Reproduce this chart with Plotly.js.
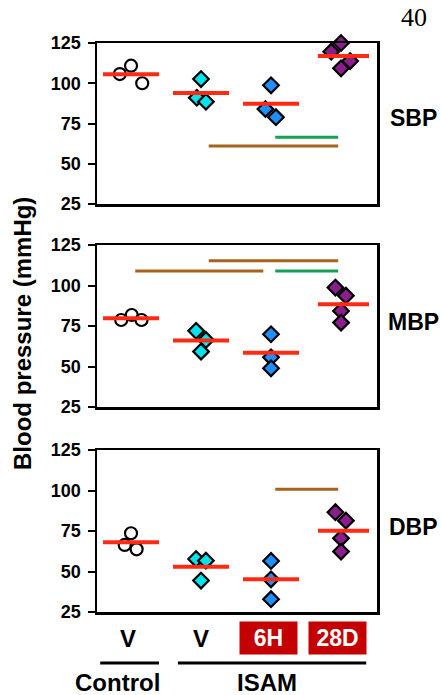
<!DOCTYPE html>
<html>
<head>
<meta charset="utf-8">
<script src="https://cdn.plot.ly/plotly-3.0.1.min.js"></script>
<style>html,body{margin:0;padding:0;background:#fff}#chart{width:441px;height:695px}</style>
</head>
<body>
<div id="chart"></div>
<script>
// ---------- DATA ----------
const groups = ['Control V', 'ISAM V', 'ISAM 6H', 'ISAM 28D'];
const bottomLabels = ['V', 'V', '6H', '28D'];
const panelNames = ['SBP', 'MBP', 'DBP'];
const yTicks = [25, 50, 75, 100, 125];

// SBP (mmHg)
const sbpControl = [105.7, 110.9, 100.0];
const sbpIsamV   = [102.6, 91.0, 88.5];
const sbpIsam6H  = [98.7, 84.0, 78.9];
const sbpIsam28D = [125.0, 119.6, 113.8, 109.3];
const sbpMeans   = [105.6, 94.0, 87.2, 117.0];

// MBP (mmHg)
const mbpControl = [78.7, 81.8, 78.7];
const mbpIsamV   = [72.0, 66.4, 59.2];
const mbpIsam6H  = [69.9, 55.7, 48.9];
const mbpIsam28D = [98.7, 93.7, 84.3, 77.1];
const mbpMeans   = [79.8, 66.0, 58.5, 88.4];

// DBP (mmHg)
const dbpControl = [73.6, 66.4, 63.7];
const dbpIsamV   = [57.7, 56.7, 44.4];
const dbpIsam6H  = [56.5, 45.2, 32.9];
const dbpIsam28D = [86.6, 81.4, 70.5, 62.3];
const dbpMeans   = [68.0, 53.0, 45.2, 75.2];

// horizontal jitter of individual points (category units)
const sbpJitter = [[-0.16, 0, 0.16], [0, -0.06, 0.07], [0, -0.08, 0.07], [0, -0.14, 0.13, 0]];
const mbpJitter = [[-0.14, 0.01, 0.15], [-0.07, 0.07, 0], [0, 0, 0], [-0.08, 0.07, 0, 0]];
const dbpJitter = [[0, -0.09, 0.08], [-0.07, 0.07, 0], [0, 0, 0], [-0.08, 0.07, 0, 0]];

// significance bars: [from, to, level (mmHg), kind]
const sbpSig = [[2.06, 2.96, 66.4, 'green'], [1.11, 2.96, 61.0, 'brown']];
const mbpSig = [[0.06, 1.89, 109.0, 'brown'], [1.11, 2.96, 115.3, 'brown'], [2.06, 2.96, 109.0, 'green']];
const dbpSig = [[2.06, 2.96, 100.7, 'brown']];

// ---------- STYLE ----------
const FONT = 'Liberation Sans, Arial, Helvetica, sans-serif';
const groupColors = ['rgba(0,0,0,0)', '#00e3ec', '#1e8fff', '#8c1d8c'];
const groupSymbols = ['circle', 'diamond', 'diamond', 'diamond'];
const sigColors = {green: '#14a055', brown: '#a5631b'};
const meanColor = '#ff2a14';
const meanExt = [[-0.4, 0.4], [-0.4, 0.4], [-0.4, 0.4], [-0.33, 0.4]];

const W = 441, H = 695, L = 97, R = 377;
const px2x = p => (p - L) / (R - L);
const py2y = p => 1 - p / H;

const panels = [
  {vals: [sbpControl, sbpIsamV, sbpIsam6H, sbpIsam28D], means: sbpMeans, jit: sbpJitter, sig: sbpSig, top: 43, bot: 204},
  {vals: [mbpControl, mbpIsamV, mbpIsam6H, mbpIsam28D], means: mbpMeans, jit: mbpJitter, sig: mbpSig, top: 245, bot: 407},
  {vals: [dbpControl, dbpIsamV, dbpIsam6H, dbpIsam28D], means: dbpMeans, jit: dbpJitter, sig: dbpSig, top: 450, bot: 612}
];

const traces = [], shapes = [], annotations = [];
const layout = {
  width: W, height: H,
  margin: {l: L, r: W - R, t: 0, b: 0, pad: 0},
  paper_bgcolor: '#fff', plot_bgcolor: '#fff',
  showlegend: false,
  font: {family: FONT, color: '#000'}
};

panels.forEach((p, i) => {
  const n = i === 0 ? '' : String(i + 1);
  const xr = 'x' + n, yr = 'y' + n;
  layout['xaxis' + n] = {
    domain: [0, 1], range: [-0.486, 3.514], anchor: yr,
    showline: true, mirror: true, linewidth: 2.5, linecolor: '#000',
    showgrid: false, zeroline: false, showticklabels: false, ticks: '', fixedrange: true
  };
  layout['yaxis' + n] = {
    domain: [py2y(p.bot), py2y(p.top)], range: [25, 125], anchor: xr,
    tickvals: yTicks, ticktext: yTicks.map(String),
    ticks: 'outside', ticklen: 7, tickwidth: 2, tickcolor: '#000',
    ticklabelstandoff: 3,
    tickfont: {family: FONT, size: 18, weight: 'bold', color: '#000'},
    showline: true, mirror: true, linewidth: 2.5, linecolor: '#000',
    showgrid: false, zeroline: false, fixedrange: true
  };
  // significance bars
  p.sig.forEach(s => {
    shapes.push({type: 'line', xref: xr, yref: yr, x0: s[0], x1: s[1], y0: s[2], y1: s[2],
      line: {color: sigColors[s[3]], width: 3}, layer: 'below'});
  });
  // mean lines (drawn over the points)
  p.means.forEach((m, g) => {
    shapes.push({type: 'line', xref: xr, yref: yr, x0: g + meanExt[g][0], x1: g + meanExt[g][1], y0: m, y1: m,
      line: {color: meanColor, width: 4}, layer: 'above'});
  });
  // points
  p.vals.forEach((vals, g) => {
    traces.push({
      type: 'scatter', mode: 'markers', xaxis: xr, yaxis: yr, cliponaxis: false,
      x: vals.map((v, k) => g + p.jit[g][k]), y: vals,
      marker: {symbol: groupSymbols[g], size: g === 0 ? 12 : 12, color: groupColors[g],
        line: {color: '#000', width: 2.2}},
      hoverinfo: 'skip'
    });
  });
  // panel label
  annotations.push({xref: 'paper', yref: 'paper', x: px2x(413), y: py2y((p.top + p.bot) / 2 - 4 + (i === 0 ? -2 : 0)),
    text: panelNames[i], showarrow: false, xanchor: 'center', yanchor: 'middle',
    font: {family: FONT, size: 23, weight: 'bold', color: '#000'}});
});

// bottom group labels
const labelX = [-0.04, 1, 1.96, 2.95];
bottomLabels.forEach((t, g) => {
  const boxed = g >= 2;
  const a = {xref: 'x3', yref: 'paper', x: labelX[g], y: py2y(638),
    text: t, showarrow: false, xanchor: 'center', yanchor: 'middle',
    font: {family: FONT, size: boxed ? 23 : 24, weight: 'bold', color: boxed ? '#fff' : '#000'}};
  if (boxed) { a.bgcolor = '#c40000'; a.width = 55; a.height = 30; a.borderpad = 1; }
  annotations.push(a);
});
shapes.push({type: 'line', xref: 'x3', yref: 'paper', x0: -0.44, x1: 0.4, y0: py2y(663), y1: py2y(663), line: {color: '#000', width: 3}});
shapes.push({type: 'line', xref: 'x3', yref: 'paper', x0: 0.67, x1: 3.36, y0: py2y(663), y1: py2y(663), line: {color: '#000', width: 3}});
annotations.push({xref: 'paper', yref: 'paper', x: px2x(117), y: py2y(682), text: 'Control', showarrow: false,
  xanchor: 'center', yanchor: 'middle', font: {family: FONT, size: 24, weight: 'bold', color: '#000'}});
annotations.push({xref: 'paper', yref: 'paper', x: px2x(267), y: py2y(682), text: 'ISAM', showarrow: false,
  xanchor: 'center', yanchor: 'middle', font: {family: FONT, size: 24, weight: 'bold', color: '#000'}});

// y title
annotations.push({xref: 'paper', yref: 'paper', x: px2x(22), y: py2y(334), text: 'Blood pressure (mmHg)',
  textangle: -90, showarrow: false, xanchor: 'center', yanchor: 'middle',
  font: {family: FONT, size: 24, weight: 'bold', color: '#000'}});

// page number
annotations.push({xref: 'paper', yref: 'paper', x: px2x(414), y: py2y(17), text: '40', showarrow: false,
  xanchor: 'center', yanchor: 'middle', font: {family: 'Liberation Serif, Times New Roman, serif', size: 26, color: '#000'}});

layout.shapes = shapes;
layout.annotations = annotations;

Plotly.newPlot('chart', traces, layout, {staticPlot: true, displayModeBar: false});
</script>
</body>
</html>
